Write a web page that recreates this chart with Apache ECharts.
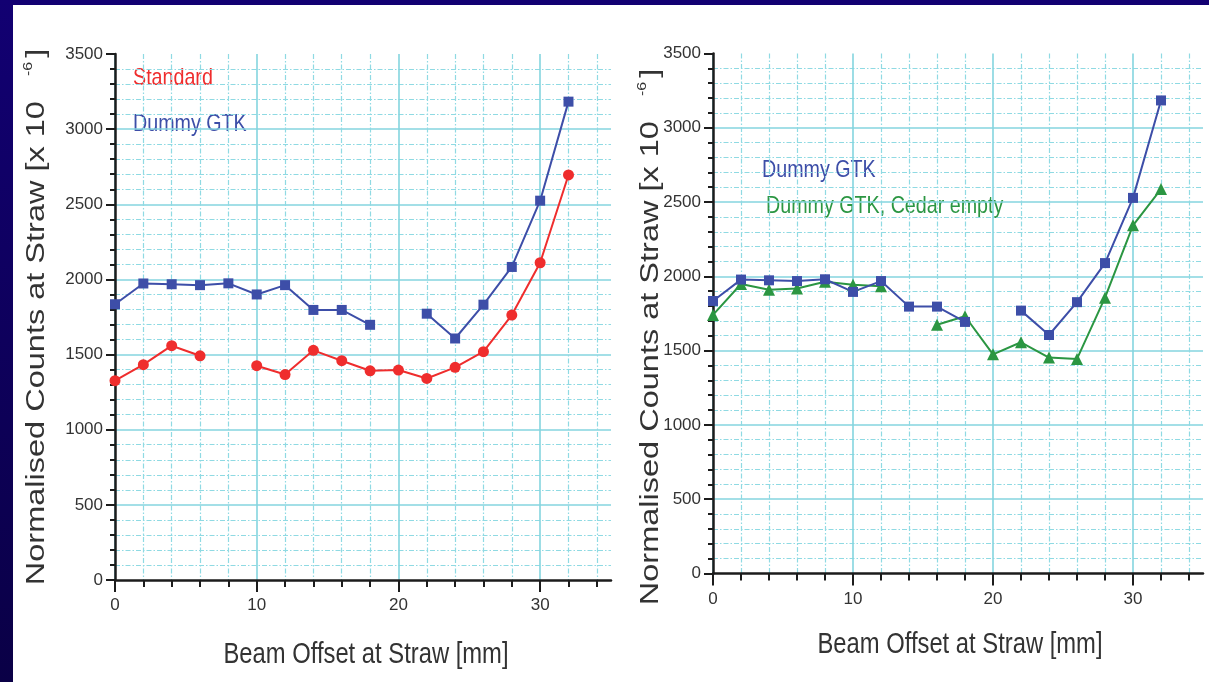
<!DOCTYPE html>
<html>
<head>
<meta charset="utf-8">
<script src="https://cdn.jsdelivr.net/npm/echarts@6/dist/echarts.min.js"></script>
<style>
  html, body { margin: 0; padding: 0; width: 1209px; height: 682px; overflow: hidden;
    background: linear-gradient(#120072, #0a0046); }
  #sheet { position: absolute; left: 13px; top: 5px; right: 0; bottom: 0; background: #ffffff; }
  #chart { position: absolute; left: 0; top: 0; width: 1209px; height: 682px; }
</style>
</head>
<body>
<div id="sheet"></div>
<div id="chart"></div>
<script>
// Beam offset positions [mm]
const offsets = [0, 2, 4, 6, 8, 10, 12, 14, 16, 18, 20, 22, 24, 26, 28, 30, 32];

// Left panel: normalised counts [x 10^-6]
const standardCounts  = [1326, 1433, 1559, 1492, null, 1426, 1367, 1528, 1459, 1392, 1397, 1341, 1415, 1519, 1763, 2111, 2695];
const dummyGtkLeft    = [1835, 1973, 1968, 1962, 1974, 1900, 1962, 1797, 1797, 1698, null, 1772, 1607, 1832, 2083, 2524, 3183];

// Right panel
const dummyGtkRight   = [1834, 1978, 1973, 1968, 1980, 1895, 1968, 1796, 1796, 1693, null, 1769, 1605, 1826, 2089, 2528, 3184];
const cedarEmpty      = [1740, 1948, 1910, 1918, 1964, 1944, 1933, null, 1674, 1731, 1475, 1556, 1453, 1444, 1856, 2343, 2587];

// Axis ticks
const xMajorTicks = [0, 10, 20, 30];
const xMinorTicks = [2, 4, 6, 8, 12, 14, 16, 18, 22, 24, 26, 28, 32, 34];

// Texts
const xTitle = 'Beam Offset at Straw [mm]';
const yTitleMain = 'Normalised Counts at Straw [x 10';
const yTitleExp = '-6';
const nameStandard = 'Standard';
const nameDummy = 'Dummy GTK';
const nameCedar = 'Dummy GTK, Cedar empty';

const SANS = '"Liberation Sans", Arial, sans-serif';
const NARROW = 0.82;           // horizontal squeeze giving a narrow face
const INK = '#1c1c1c';
const LABEL = '#333333';
const GRID_MAJOR = '#84d5df';
const GRID_MINOR = '#8fdae3';
const RED = '#ef2d2d';
const BLUE = '#3d4ea8';
const GREEN = '#2b9642';
const MINOR_DASH = [5, 2, 1.5, 2];

const panels = [
  { grid: { left: 115, right: 598, top: 54, bottom: 102 }, yName: { x: 37, y: 317 }, xName: { x: 366, y: 655 } },
  { grid: { left: 713, right: 6, top: 53.5, bottom: 108.6 }, yName: { x: 651, y: 337 }, xName: { x: 960, y: 645 } }
];

const toPoints = vals => offsets.map((x, i) => [x, vals[i] == null ? '-' : vals[i]]);

const grids = [], xAxes = [], yAxes = [];
panels.forEach((p, g) => {
  grids.push(Object.assign({ containLabel: false, outerBoundsMode: 'none' }, p.grid));
  // minor x grid and ticks every 2 mm
  xAxes.push({
    type: 'value', gridIndex: g, position: 'bottom', min: 0, max: 35, interval: 2,
    axisLine: { show: false, onZero: false },
    axisTick: { show: true, length: 7, customValues: xMinorTicks, lineStyle: { color: INK, width: 2 } },
    axisLabel: { show: false },
    splitLine: { show: true, showMinLine: true, showMaxLine: true,
      lineStyle: { color: GRID_MINOR, width: 1.2, type: MINOR_DASH } }
  });
  // major x axis every 10 mm
  xAxes.push({
    type: 'value', gridIndex: g, position: 'bottom', min: 0, max: 35, interval: 10,
    axisLine: { show: true, onZero: false, lineStyle: { color: INK, width: 2.5 } },
    axisTick: { show: true, length: 12, customValues: xMajorTicks, lineStyle: { color: INK, width: 2 } },
    axisLabel: { show: true, margin: 17, customValues: xMajorTicks, color: LABEL, fontFamily: SANS, fontSize: 17 },
    splitLine: { show: true, showMinLine: true, showMaxLine: true,
      lineStyle: { color: GRID_MAJOR, width: 1.6 } }
  });
  yAxes.push({
    type: 'value', gridIndex: g, min: 0, max: 3500, interval: 500,
    axisLine: { show: true, onZero: false, lineStyle: { color: INK, width: 2.5 } },
    axisTick: { show: true, length: 9, lineStyle: { color: INK, width: 2 } },
    minorTick: { show: true, splitNumber: 5, length: 5, lineStyle: { color: INK, width: 2 } },
    axisLabel: { margin: 12, color: LABEL, fontFamily: SANS, fontSize: 17, formatter: v => String(v) },
    splitLine: { show: true, showMinLine: false, showMaxLine: false,
      lineStyle: { color: GRID_MAJOR, width: 1.6 } },
    minorSplitLine: { show: true, lineStyle: { color: GRID_MINOR, width: 1.2, type: MINOR_DASH } }
  });
});

function lineSeries(name, vals, g, color, symbol, size) {
  return {
    type: 'line', name: name, xAxisIndex: g * 2 + 1, yAxisIndex: g,
    data: toPoints(vals), connectNulls: false,
    symbol: symbol, symbolSize: size, showSymbol: true,
    lineStyle: { color: color, width: 2 },
    itemStyle: { color: color },
    z: 5, animation: false
  };
}

const series = [
  lineSeries(nameStandard, standardCounts, 0, RED, 'circle', 11),
  lineSeries(nameDummy, dummyGtkLeft, 0, BLUE, 'rect', 10),
  lineSeries(nameCedar, cedarEmpty, 1, GREEN, 'triangle', 12),
  lineSeries(nameDummy, dummyGtkRight, 1, BLUE, 'rect', 10)
];

const graphic = [];
panels.forEach(p => {
  // vertical axis title with exponent
  graphic.push({
    type: 'text', x: p.yName.x, y: p.yName.y, rotation: Math.PI / 2, scaleY: 0.82,
    style: {
      text: '{m|' + yTitleMain + '}{s|' + yTitleExp + '}{m|]}',
      align: 'center', verticalAlign: 'middle', fill: LABEL,
      rich: {
        m: { fontFamily: SANS, fontSize: 32.5, lineHeight: 36, fill: LABEL },
        s: { fontFamily: SANS, fontSize: 16, lineHeight: 36, verticalAlign: 'top', fill: LABEL, padding: [0, 4, 0, 25] }
      }
    }
  });
  // horizontal axis title
  graphic.push({
    type: 'text', x: p.xName.x, y: p.xName.y, scaleX: NARROW,
    style: { text: xTitle, fill: LABEL, fontFamily: SANS, fontSize: 29, align: 'center', verticalAlign: 'middle' }
  });
});
const legendText = (text, x, y, color) => ({
  type: 'text', x: x, y: y, scaleX: NARROW,
  style: { text: text, fill: color, fontFamily: SANS, fontSize: 24, verticalAlign: 'middle' }
});
graphic.push(legendText(nameStandard, 133, 78, RED));
graphic.push(legendText(nameDummy, 133, 124, BLUE));
graphic.push(legendText(nameDummy, 762, 170, BLUE));
graphic.push(legendText(nameCedar, 766, 206, GREEN));

const chart = echarts.init(document.getElementById('chart'), null, { renderer: 'canvas' });
chart.setOption({
  backgroundColor: 'transparent',
  animation: false,
  grid: grids,
  xAxis: xAxes,
  yAxis: yAxes,
  series: series,
  graphic: graphic
});
</script>
</body>
</html>
